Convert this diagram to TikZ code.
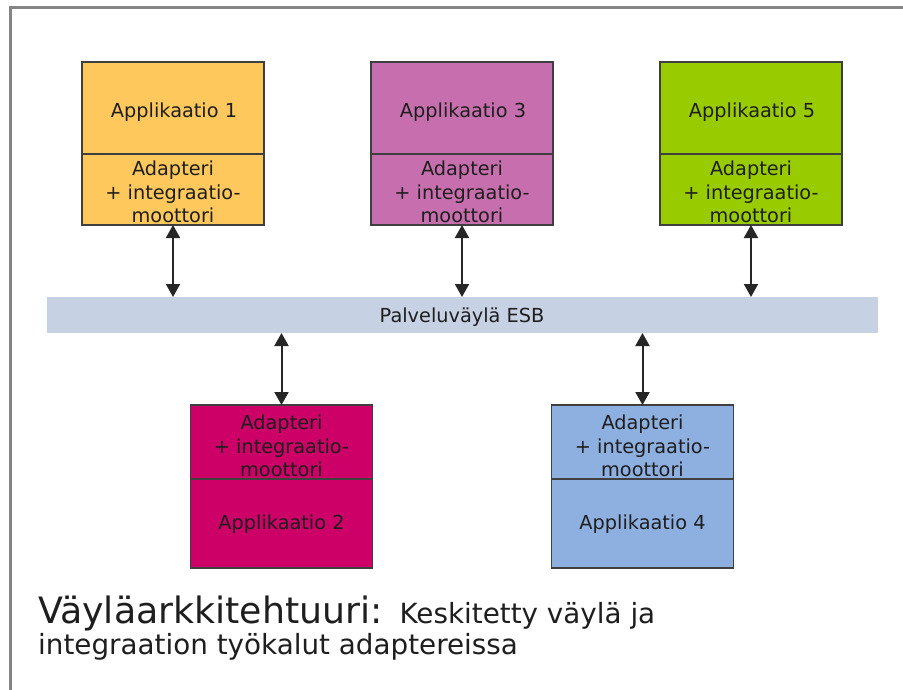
\documentclass[tikz,border=0pt]{standalone}
\usepackage{fontspec}
\setmainfont{DejaVu Sans}
\usetikzlibrary{arrows.meta}

\definecolor{appyellow}{HTML}{FFC85C}
\definecolor{apppink}{HTML}{C76FAE}
\definecolor{appgreen}{HTML}{99CC00}
\definecolor{appmagenta}{HTML}{CC0066}
\definecolor{appblue}{HTML}{8EB0E0}
\definecolor{busblue}{HTML}{C6D1E4}
\definecolor{edgegray}{HTML}{3F3F3F}
\definecolor{framegray}{HTML}{858585}
\definecolor{inktext}{HTML}{1E1E1E}

\begin{document}
\begin{tikzpicture}[x=1pt,y=-1pt,
  part/.style={draw=edgegray, line width=1.2pt, minimum width=182pt,
    inner sep=0pt, outer sep=0pt},
  boxtext/.style={text=inktext, align=center, inner sep=0pt,
    font=\fontsize{19.3}{23.5}\selectfont},
  conn/.style={{Triangle[length=13pt,width=14pt]}-{Triangle[length=13pt,width=14pt]},
    line width=2pt, draw=black!85},
]
\useasboundingbox (0,0) rectangle (903,690);

% outer frame (top and left edges)
\draw[framegray, line width=3pt] (10,690) -- (10,8) -- (903,8);

% service bus
\node[fill=busblue, minimum width=831pt, minimum height=36pt, inner sep=0pt,
  outer sep=0pt] (bus) at (462.5,315) {};
\node[boxtext] (bust) at (462,317) {Palveluväylä ESB};

% upper applications: application on top, adapter below
\node[part, fill=appyellow, minimum height=92pt] (app1) at (173,108) {};
\node[part, fill=appyellow, minimum height=71pt, anchor=north] (ad1) at (app1.south) {};
\node[part, fill=apppink, minimum height=92pt] (app3) at (462,108) {};
\node[part, fill=apppink, minimum height=71pt, anchor=north] (ad3) at (app3.south) {};
\node[part, fill=appgreen, minimum height=92pt] (app5) at (751,108) {};
\node[part, fill=appgreen, minimum height=71pt, anchor=north] (ad5) at (app5.south) {};

% lower applications: adapter on top, application below
\node[part, fill=appmagenta, minimum height=74pt] (ad2) at (281.5,442) {};
\node[part, fill=appmagenta, minimum height=89pt, anchor=north] (app2) at (ad2.south) {};
\node[part, fill=appblue, minimum height=74pt] (ad4) at (642.5,442) {};
\node[part, fill=appblue, minimum height=89pt, anchor=north] (app4) at (ad4.south) {};

% labels
\node[boxtext] (app1t) at (174,112) {Applikaatio 1};
\node[boxtext] (ad1t) at (173,192) {Adapteri\\+ integraatio-\\moottori};
\node[boxtext] (app3t) at (463,112) {Applikaatio 3};
\node[boxtext] (ad3t) at (462,192) {Adapteri\\+ integraatio-\\moottori};
\node[boxtext] (app5t) at (752,112) {Applikaatio 5};
\node[boxtext] (ad5t) at (751,192) {Adapteri\\+ integraatio-\\moottori};
\node[boxtext] (ad2t) at (281.5,446) {Adapteri\\+ integraatio-\\moottori};
\node[boxtext] (app2t) at (281.5,524) {Applikaatio 2};
\node[boxtext] (ad4t) at (642.5,446) {Adapteri\\+ integraatio-\\moottori};
\node[boxtext] (app4t) at (642.5,524) {Applikaatio 4};

% connections to the bus
\draw[conn] (ad1.south) -- (ad1.south |- bus.north);
\draw[conn] (ad3.south) -- (ad3.south |- bus.north);
\draw[conn] (ad5.south) -- (ad5.south |- bus.north);
\draw[conn] (ad2.north) -- (ad2.north |- bus.south);
\draw[conn] (ad4.north) -- (ad4.north |- bus.south);

% caption
\node[anchor=base west, inner sep=0pt, text=inktext] (cap1) at (38,623)
  {\fontsize{36.3}{40}\selectfont Väyläarkkitehtuuri:\hspace{17pt}\fontsize{27.8}{32}\selectfont Keskitetty väylä ja};
\node[anchor=base west, inner sep=0pt, text=inktext, font=\fontsize{27.8}{32}\selectfont]
  (cap2) at (38,654) {integraation työkalut adaptereissa};
\end{tikzpicture}
\end{document}
